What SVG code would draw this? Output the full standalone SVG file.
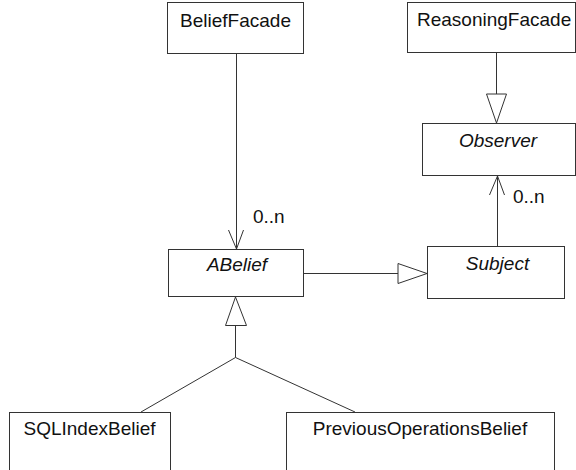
<svg xmlns="http://www.w3.org/2000/svg" width="576" height="470" viewBox="0 0 576 470">
<style>
.box{fill:#fff;stroke:#333;stroke-width:1}
.ln{fill:none;stroke:#333;stroke-width:1}
.tri{fill:#fff;stroke:#333;stroke-width:1}
text{font-family:"Liberation Sans",Arial,sans-serif;font-size:19px;fill:#111}
.c{text-anchor:middle}
.i{font-style:italic}
</style>
<rect width="576" height="470" fill="#fff"/>
<g id="connectors">
<path class="ln" d="M236.5,53 V249"/>
<path class="ln" d="M228.5,230 L236.5,249 L243.5,230"/>
<path class="ln" d="M496.5,52 V94"/>
<polygon class="tri" points="486.5,94 506.5,94 496.5,123"/>
<path class="ln" d="M497.5,246 V176"/>
<path class="ln" d="M489.5,195 L497.5,176 L504.5,195"/>
<path class="ln" d="M303,273.5 H398"/>
<polygon class="tri" points="398,263.5 398,283.5 427,273.5"/>
<polygon class="tri" points="225.5,325.5 246.5,325.5 235.5,297"/>
<path class="ln" d="M235.5,325.5 V357.5 M141,412 L235.5,357.5 L355,412"/>
<text x="253" y="223">0..n</text>
<text x="513" y="203">0..n</text>
</g>
<g id="BeliefFacade">
<rect class="box" x="167.5" y="2.5" width="136" height="51"/>
<text class="c" x="235.5" y="27">BeliefFacade</text>
</g>
<g id="ReasoningFacade">
<rect class="box" x="407.5" y="2.5" width="168" height="50"/>
<text x="417" y="26">ReasoningFacade</text>
</g>
<g id="Observer">
<rect class="box" x="422.5" y="123.5" width="153" height="52"/>
<text class="c i" x="498" y="147">Observer</text>
</g>
<g id="ABelief">
<rect class="box" x="168.5" y="249.5" width="135" height="47"/>
<text class="c i" x="237" y="271">ABelief</text>
</g>
<g id="Subject">
<rect class="box" x="427.5" y="246.5" width="137" height="52"/>
<text class="c i" x="497.5" y="270">Subject</text>
</g>
<g id="SQLIndexBelief">
<rect class="box" x="9.5" y="412.5" width="161" height="70"/>
<text class="c" x="89.5" y="435">SQLIndexBelief</text>
</g>
<g id="PreviousOperationsBelief">
<rect class="box" x="286.5" y="412.5" width="268" height="70"/>
<text class="c" x="420" y="435">PreviousOperationsBelief</text>
</g>
</svg>
